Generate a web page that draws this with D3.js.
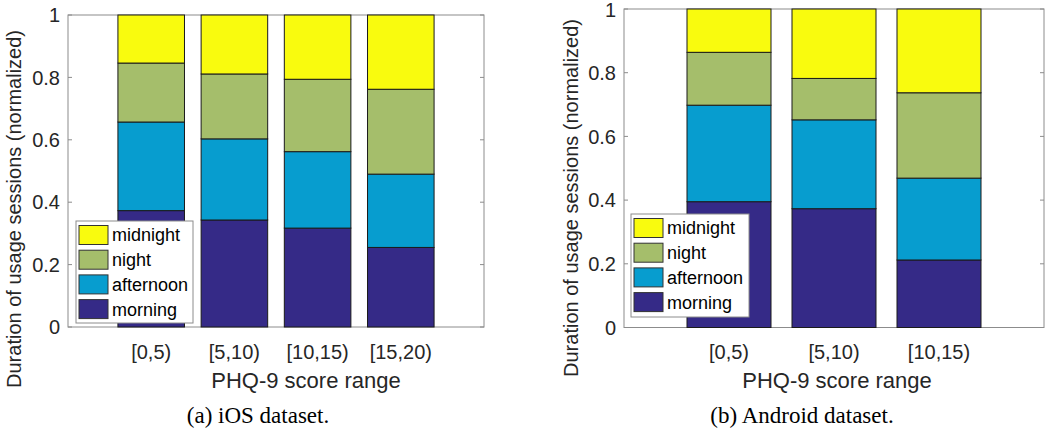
<!DOCTYPE html>
<html>
<head>
<meta charset="utf-8">
<script src="https://cdn.jsdelivr.net/npm/d3@7"></script>
<style>
  html, body { margin: 0; padding: 0; background: #fff; }
  svg { display: block; }
  text { font-family: "Liberation Sans", Arial, sans-serif; }
</style>
</head>
<body>
<svg id="chart" width="1050" height="431"></svg>
<script>
// ---- data ----
const seriesNames = ["morning", "afternoon", "night", "midnight"];
const legendOrder = ["midnight", "night", "afternoon", "morning"];
const yTicks = [0, 0.2, 0.4, 0.6, 0.8, 1];
const yTickLabels = ["0", "0.2", "0.4", "0.6", "0.8", "1"];

const iosCategories = ["[0,5)", "[5,10)", "[10,15)", "[15,20)"];
const iosMorning   = [0.373, 0.343, 0.317, 0.255];
const iosAfternoon = [0.284, 0.260, 0.245, 0.235];
const iosNight     = [0.189, 0.208, 0.232, 0.272];
const iosMidnight  = [0.154, 0.189, 0.206, 0.238];

const andCategories = ["[0,5)", "[5,10)", "[10,15)"];
const andMorning   = [0.395, 0.373, 0.212];
const andAfternoon = [0.303, 0.279, 0.257];
const andNight     = [0.166, 0.130, 0.268];
const andMidnight  = [0.136, 0.218, 0.263];

const xLabel = "PHQ-9 score range";
const yLabel = "Duration of usage sessions (normalized)";
const captions = ["(a) iOS dataset.", "(b) Android dataset."];

const colors = {
  morning: "#352a87",
  afternoon: "#079dcf",
  night: "#a5be6b",
  midnight: "#f9fb0e"
};

const svg = d3.select("#chart");

function drawPanel(opt) {
  const { categories, series, x0, x1, yTop, yBot, legend, caption, ylabelPos, xlabelX, captionX } = opt;
  const n = categories.length;
  const x = d3.scaleLinear().domain([0, n + 1]).range([x0, x1]);
  const y = d3.scaleLinear().domain([0, 1]).range([yBot, yTop]);
  const bw = x(0.8) - x(0);

  const rows = categories.map((c, i) => {
    const r = { cat: c, idx: i + 1 };
    seriesNames.forEach(s => r[s] = series[s][i]);
    return r;
  });
  const stacked = d3.stack().keys(seriesNames)(rows);

  const g = svg.append("g");

  const axisColor = "#8c8c8c";
  g.append("rect").attr("x", x0).attr("y", yTop).attr("width", x1 - x0).attr("height", yBot - yTop)
    .attr("fill", "none").attr("stroke", axisColor).attr("stroke-width", 1);

  yTicks.forEach((t, i) => {
    g.append("line").attr("x1", x0).attr("x2", x0 + 4).attr("y1", y(t)).attr("y2", y(t)).attr("stroke", axisColor);
    g.append("line").attr("x1", x1).attr("x2", x1 - 4).attr("y1", y(t)).attr("y2", y(t)).attr("stroke", axisColor);
    g.append("text").attr("x", x0 - 8).attr("y", Math.max(y(t), 10)).attr("dy", "0.36em")
      .attr("text-anchor", "end").attr("font-size", 20).attr("fill", "#262626")
      .text(yTickLabels[i]);
  });

  stacked.forEach(layer => {
    g.append("g").selectAll("rect").data(layer).join("rect")
      .attr("x", d => x(d.data.idx) - bw / 2)
      .attr("width", bw)
      .attr("y", d => y(d[1]))
      .attr("height", d => y(d[0]) - y(d[1]))
      .attr("fill", colors[layer.key])
      .attr("stroke", "#1a1a1a")
      .attr("stroke-width", 1);
  });

  categories.forEach((c, i) => {
    g.append("text").attr("x", x(i + 1)).attr("y", 359)
      .attr("text-anchor", "middle").attr("font-size", 20).attr("fill", "#262626").text(c);
  });

  g.append("text").attr("x", xlabelX).attr("y", 388)
    .attr("text-anchor", "middle").attr("font-size", 22).attr("fill", "#262626").text(xLabel);

  g.append("text")
    .attr("transform", `translate(${ylabelPos[0]},${ylabelPos[1]}) rotate(-90)`)
    .attr("text-anchor", "middle").attr("dy", "0.36em").attr("font-size", 20).attr("fill", "#262626").text(yLabel);

  g.append("text").attr("x", captionX).attr("y", 423)
    .attr("text-anchor", "middle").attr("font-size", 23).attr("fill", "#000")
    .style("font-family", "'Liberation Serif', 'Times New Roman', serif").text(caption);

  const lg = g.append("g");
  lg.append("rect").attr("x", legend.x).attr("y", legend.y).attr("width", legend.w).attr("height", legend.h)
    .attr("fill", "#fff").attr("stroke", "#8c8c8c");
  legendOrder.forEach((s, i) => {
    const yy = legend.y + 4.5 + i * 24.7;
    lg.append("rect").attr("x", legend.x + 3).attr("y", yy).attr("width", 29).attr("height", 19)
      .attr("fill", colors[s]).attr("stroke", "#333").attr("stroke-width", 1);
    lg.append("text").attr("x", legend.x + 36).attr("y", yy + 9.5).attr("dy", "0.36em")
      .attr("font-size", 18).attr("fill", "#000").text(s);
  });
}

drawPanel({
  categories: iosCategories,
  series: { morning: iosMorning, afternoon: iosAfternoon, night: iosNight, midnight: iosMidnight },
  x0: 68, x1: 484, yTop: 15, yBot: 327,
  legend: { x: 76, y: 221, w: 117, h: 102 },
  caption: captions[0],
  ylabelPos: [14, 209],
  xlabelX: 306,
  captionX: 258
});

drawPanel({
  categories: andCategories,
  series: { morning: andMorning, afternoon: andAfternoon, night: andNight, midnight: andMidnight },
  x0: 624, x1: 1044, yTop: 9, yBot: 327.5,
  legend: { x: 631, y: 214, w: 118, h: 103 },
  caption: captions[1],
  ylabelPos: [571, 198],
  xlabelX: 837,
  captionX: 802
});
</script>
</body>
</html>
